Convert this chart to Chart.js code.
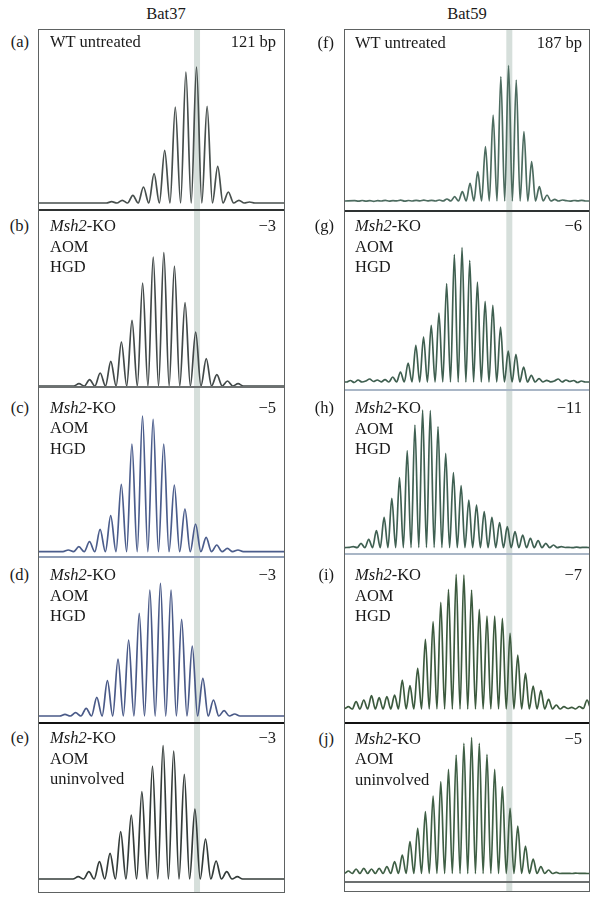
<!DOCTYPE html>
<html>
<head>
<meta charset="utf-8">
<script src="https://cdn.jsdelivr.net/npm/chart.js@4.4.1/dist/chart.umd.min.js"></script>
<style>
  body { margin: 0; background: #fff; width: 605px; height: 905px; position: relative; overflow: hidden;
         font-family: "Liberation Serif", "Times New Roman", serif; color: #1a1a1a; }
  canvas { position: absolute; }
  .t { position: absolute; font-size: 16.5px; line-height: 16px; white-space: nowrap; }
  .r { text-align: right; }
  .box { position: absolute; border: 1.5px solid #5e6262; box-sizing: border-box; }
  .sep { position: absolute; }
</style>
</head>
<body>
<script>
// ---- Bat37 (size in bp of the first peak, then peak heights) ----
const bat37Mode = 121;
const aStart = 112.95;
const aPeaks = [1.3, 2.7, 7.7, 16, 29.3, 52.7, 96, 131, 136, 96.7, 36.7, 11, 2.7, 1];
const bStart = 109.87;
const bPeaks = [2.3, 6.3, 13, 24.7, 44, 65.7, 103, 129, 133.3, 120, 83.3, 54, 27.3, 11.3, 5, 2.3];
const cStart = 108.86;
const cPeaks = [1.7, 5, 10, 22.3, 36, 67.3, 107.7, 135.7, 132.3, 107.7, 66.7, 42.7, 27.7, 14.3, 6.7, 3.3, 1.7];
const dStart = 108.55;
const dPeaks = [1.7, 3.3, 7.7, 18.7, 35.3, 57, 76, 102.7, 126, 132.7, 126, 96.7, 70, 37.7, 16, 5.3, 2];
const eStart = 109.8;
const ePeaks = [2.3, 7.3, 17.3, 25.7, 47.3, 64, 87.3, 113, 133.3, 128, 104.7, 70, 40, 18, 7.3, 2.3];

// ---- Bat59 ----
const bat59Mode = 187;
const fStart = 176.9;
const fPeaks = [1.3, 1.7, 2.7, 5, 10, 18.3, 30, 55, 86.7, 125, 136, 121.7, 70, 40, 15, 6.7, 2.3, 1.7];
const fLead = [1, 0.5, 1.2, 0.6, 1, 0.4, 1.1, 0.7, 1.3, 0.5, 1, 0.8, 1.5, 0.6, 1.2, 0.7, 1.4, 0.8, 1.6, 0.9];
const fTail = [1, 0.6, 1.2, 0.8, 1.4, 0.7];
const gStart = 170.86;
const gPeaks = [3.3, 6, 11, 20, 37.7, 46, 57.7, 70, 99.3, 128.3, 135.3, 122.7, 101, 81.7, 77.7, 56, 32, 28.7, 16, 7.7, 4.3, 2.7];
const gLead = [1, 2.5, 0.5, 3, 1, 2, 4, 1.5, 3, 1.2];
const gTail = [1.2, 2, 4, 1, 3, 1.5, 2.5, 0.5, 2, 1];
const hStart = 166.74;
const hPeaks = [1.7, 5, 9, 17.7, 31, 50, 70.7, 97.7, 123.3, 138.3, 137.7, 121.7, 95, 75.7, 62.7, 48.3, 43.3, 36.7, 31, 25.7, 21.7, 16.7, 13.3, 10, 7.7, 5, 3.3, 1.7];
const hLead = [1];
const hTail = [0.8, 1, 0.6, 1.2, 0.7, 1, 0.8];
const iStart = 166.1;
const iPeaks = [3.3, 8.3, 10, 14.3, 12.3, 13.3, 15, 30, 24.3, 41.7, 70.7, 88.3, 107.7, 120.7, 135.7, 135, 120, 100.7, 94, 94, 91.7, 76.7, 55, 36.7, 24, 19.3, 10.7, 5, 3.3];
const iLead = [1.5];
const iTail = [1.5, 2.7, 1, 3.5, 1.5, 10, 1.5, 4, 2];
const jStart = 166.1;
const jPeaks = [3.3, 5.3, 6, 5.3, 6, 7.7, 12.7, 19.3, 32.7, 46, 62.7, 78.3, 92.7, 105, 119.3, 131, 136.7, 131, 120, 105, 87.7, 66, 48.3, 28.3, 15.3, 7.7, 4.3, 2, 1];
const jLead = [1];
const jTail = [1, 0.8, 1.2, 0.9, 1, 0.8];

const shifts37 = ['121 bp', '\u22123', '\u22125', '\u22123', '\u22123'];
const shifts59 = ['187 bp', '\u22126', '\u221211', '\u22127', '\u22125'];
const letters37 = ['(a)', '(b)', '(c)', '(d)', '(e)'];
const letters59 = ['(f)', '(g)', '(h)', '(i)', '(j)'];
const groups = [['WT untreated'], ['<i>Msh2</i>-KO', 'AOM', 'HGD'], ['<i>Msh2</i>-KO', 'AOM', 'HGD'],
                ['<i>Msh2</i>-KO', 'AOM', 'HGD'], ['<i>Msh2</i>-KO', 'AOM', 'uninvolved']];

// ---- layout ----
const cols = [
  { left: 39, width: 245, xMin: 106.1, xMax: 129.2, mode: bat37Mode, title: 'Bat37', titleX: 166,
    letterR: 29, textX: 50, numR: 276,
    seps: [30, 210, 387, 557, 723, 892],
    sepStyle: [null, ['#2e3232', 2], ['#6c7070', 1.5], ['#8d9cb6', 1.5], ['#111', 2.5]],
    bases: [203, 386, 551.7, 716, 879],
    textBase: [48, 232, 413.3, 580.7, 744],
    panels: [
      [aStart, aPeaks, [0], [0], 0, '#474f4d'],
      [bStart, bPeaks, [0], [0], 0, '#424949'],
      [cStart, cPeaks, [0], [0], 0, '#4b5d8c'],
      [dStart, dPeaks, [0], [0], 0, '#4a5a88'],
      [eStart, ePeaks, [0], [0], 0, '#343c3a']] },
  { left: 345, width: 244, xMin: 165.66, xMax: 197.35, mode: bat59Mode, title: 'Bat59', titleX: 467,
    letterR: 334, textX: 355, numR: 582,
    seps: [30, 211, 390, 554, 723, 891],
    sepStyle: [null, ['#2e3232', 2], ['#a9b6c6', 1.5], ['#a9b6c6', 1.5], ['#111', 2.5]],
    bases: [201.7, 383, 548.3, 710, 874.3],
    textBase: [48.3, 231.7, 414, 581, 744.3],
    panels: [
      [fStart, fPeaks, fLead, fTail, 0.7, '#4d6c60'],
      [gStart, gPeaks, gLead, gTail, 1, '#3f5f50'],
      [hStart, hPeaks, hLead, hTail, 0.7, '#3f6052'],
      [iStart, iPeaks, iLead, iTail, 1, '#3c5a3e'],
      [jStart, jPeaks, jLead, jTail, 0.8, '#3f5f45']] }
];

function trace(start, peaks, lead, tail, floor, xMin, xMax) {
  const pts = [{ x: xMin, y: floor }];
  lead.forEach((v, j) => pts.push({ x: start - 0.5 * (lead.length - j), y: v }));
  peaks.forEach((v, i) => {
    pts.push({ x: start + i, y: v });
    if (i < peaks.length - 1) pts.push({ x: start + i + 0.5, y: floor });
  });
  const last = start + peaks.length - 1;
  tail.forEach((v, j) => pts.push({ x: last + 0.5 * (j + 1), y: v }));
  pts.push({ x: Math.max(xMax, last + 0.5 * (tail.length + 1)), y: floor });
  return pts;
}

const bandPlugin = {
  id: 'band',
  beforeDatasetsDraw(chart, args, opts) {
    const { ctx, chartArea, scales } = chart;
    const px = scales.x.getPixelForValue(opts.value);
    ctx.save();
    ctx.fillStyle = '#d6dfdb';
    ctx.fillRect(px - 3, chartArea.top, 6, chartArea.bottom - chartArea.top);
    ctx.restore();
  }
};

function addText(x, base, html, right) {
  const d = document.createElement('div');
  d.className = 't' + (right ? ' r' : '');
  d.innerHTML = html;
  d.style.top = (base - 13.6) + 'px';
  if (right) { d.style.right = (605 - x) + 'px'; } else { d.style.left = x + 'px'; }
  document.body.appendChild(d);
}

cols.forEach((col) => {
  // title
  const tt = document.createElement('div');
  tt.className = 't';
  tt.textContent = col.title;
  tt.style.top = (20 - 13.6) + 'px';
  tt.style.left = (col.titleX - 25) + 'px';
  tt.style.width = '50px';
  tt.style.textAlign = 'center';
  document.body.appendChild(tt);

  col.panels.forEach((p, k) => {
    const top = col.seps[k], bottom = col.seps[k + 1], base = col.bases[k];
    const cv = document.createElement('canvas');
    cv.width = col.width;
    cv.height = bottom - top;
    cv.style.left = col.left + 'px';
    cv.style.top = top + 'px';
    document.body.appendChild(cv);
    new Chart(cv, {
      type: 'line',
      data: { datasets: [{
        data: trace(p[0], p[1], p[2], p[3], p[4], col.xMin, col.xMax),
        borderColor: p[5], borderWidth: 1.7, pointRadius: 0,
        cubicInterpolationMode: 'monotone', fill: false
      }] },
      options: {
        responsive: false, animation: false, devicePixelRatio: 1, events: [],
        layout: { padding: 0 },
        plugins: { legend: { display: false }, tooltip: { enabled: false }, band: { value: col.mode } },
        scales: {
          x: { type: 'linear', display: false, min: col.xMin, max: col.xMax },
          y: { display: false, min: -(bottom - base), max: base - top }
        }
      },
      plugins: [bandPlugin]
    });

    const tb = col.textBase[k];
    addText(col.letterR, tb, col === cols[0] ? letters37[k] : letters59[k], true);
    addText(col.numR, tb, col === cols[0] ? shifts37[k] : shifts59[k], true);
    groups[k].forEach((g, m) => addText(col.textX, tb + m * 20.4, g, false));

    if (col.sepStyle[k]) {
      const s = document.createElement('div');
      s.className = 'sep';
      s.style.left = col.left + 'px';
      s.style.width = col.width + 'px';
      s.style.top = (top - col.sepStyle[k][1] / 2) + 'px';
      s.style.height = col.sepStyle[k][1] + 'px';
      s.style.background = col.sepStyle[k][0];
      document.body.appendChild(s);
    }
  });

  const b = document.createElement('div');
  b.className = 'box';
  b.style.left = (col.left - 0.75) + 'px';
  b.style.top = (col.seps[0] - 0.75) + 'px';
  b.style.width = (col.width + 1.5) + 'px';
  b.style.height = (col.seps[5] - col.seps[0] + 1.5) + 'px';
  document.body.appendChild(b);
});

// second rule under panel (j)
const extra = document.createElement('div');
extra.className = 'sep';
extra.style.left = '345px';
extra.style.width = '244px';
extra.style.top = '881px';
extra.style.height = '1.5px';
extra.style.background = '#6c7070';
document.body.appendChild(extra);
</script>
</body>
</html>
